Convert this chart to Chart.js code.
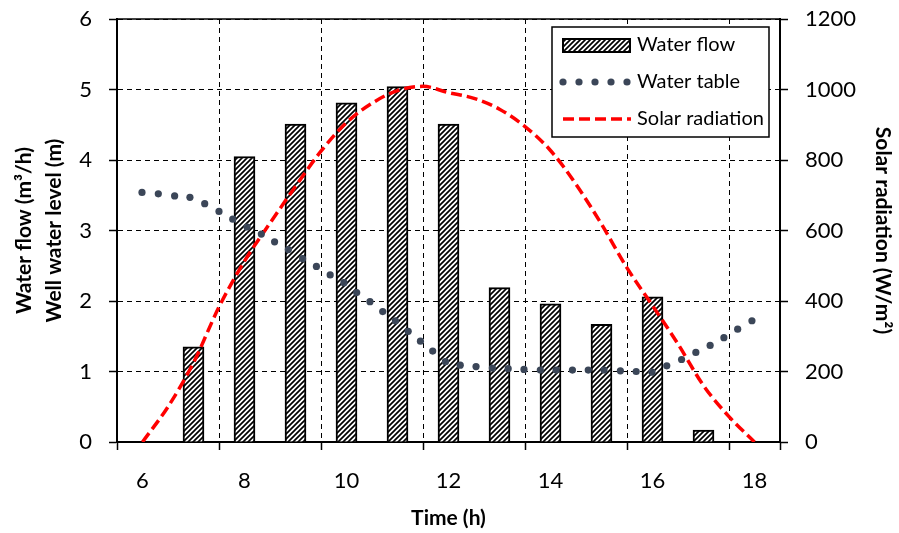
<!DOCTYPE html>
<html>
<head>
<meta charset="utf-8">
<script src="https://cdn.jsdelivr.net/npm/chart.js@4.4.1/dist/chart.umd.min.js"></script>
<style>
  body { margin: 0; background: #fff; }
  #wrap { width: 899px; height: 533px; }
</style>
</head>
<body>
<div id="wrap"><canvas id="canvas" width="899" height="533"></canvas></div>
<script>
// water flow (bars, one per hour)
var flowHours = [7, 8, 9, 10, 11, 12, 13, 14, 15, 16, 17];
var flowValues = [1.35, 4.05, 4.51, 4.81, 5.04, 4.51, 2.19, 1.96, 1.67, 2.06, 0.17];

// well water level (dots)
var tableHours = [5.99, 6.31, 6.63, 6.93, 7.22, 7.50, 7.77, 8.05, 8.33, 8.59, 8.86, 9.14, 9.41, 9.68,
  9.95, 10.20, 10.46, 10.71, 10.96, 11.21, 11.45, 11.69, 11.94, 12.23, 12.54, 12.86, 13.17, 13.48,
  13.80, 14.11, 14.43, 14.74, 15.05, 15.37, 15.68, 15.99, 16.28, 16.57, 16.85, 17.13, 17.40, 17.67, 17.95];
var tableValues = [3.54, 3.52, 3.49, 3.47, 3.38, 3.27, 3.16, 3.05, 2.95, 2.84, 2.73, 2.60, 2.49, 2.37,
  2.26, 2.12, 1.99, 1.85, 1.72, 1.57, 1.43, 1.29, 1.14, 1.09, 1.07, 1.05, 1.04, 1.03,
  1.02, 1.02, 1.02, 1.02, 1.02, 1.01, 1.00, 0.99, 1.08, 1.17, 1.27, 1.37, 1.48, 1.60, 1.72];

// solar radiation (W/m2)
var solarHours = [6, 6.5, 7, 7.5, 8, 8.5, 9, 9.5, 10, 10.5, 11, 11.5, 12, 12.5, 13, 13.5, 14, 14.5,
  15, 15.5, 16, 16.5, 17, 17.5, 18];
var solarValues = [0, 100, 225, 383, 513, 621, 725, 825, 906, 961, 997, 1009, 991, 975, 944, 895, 827, 731,
  618, 494, 387, 278, 160, 72, 0];

// axis ticks
var xGridAt = [5.5, 7.5, 9.5, 11.5, 13.5, 15.5, 17.5, 18.5];
var xTickLabels = ['6', '8', '10', '12', '14', '16', '18'];

Chart.defaults.font.family = 'Lato';
Chart.defaults.color = '#000';

const ctx = document.getElementById('canvas').getContext('2d');

function hatch() {
  var c = document.createElement('canvas');
  c.width = 5; c.height = 5;
  var g = c.getContext('2d');
  g.fillStyle = '#fff';
  g.fillRect(0, 0, 5, 5);
  g.strokeStyle = '#000';
  g.lineWidth = 1.7;
  g.beginPath();
  g.moveTo(0, 5); g.lineTo(5, 0);
  g.moveTo(-1, 1); g.lineTo(1, -1);
  g.moveTo(4, 6); g.lineTo(6, 4);
  g.stroke();
  return ctx.createPattern(c, 'repeat');
}
var hatchFill = hatch();
var dotColor = '#3b4658';
var solarDash = [11, 5];

function pts(xs, ys) {
  return xs.map(function (x, i) { return { x: x, y: ys[i] }; });
}

// top frame line + boxed legend inside the plot
var frame = {
  id: 'frame',
  afterDatasetsDraw: function (chart) {
    var a = chart.chartArea, g = chart.ctx, ds = chart.data.datasets;
    g.save();
    g.strokeStyle = '#000';
    g.lineWidth = 1.5;
    g.beginPath(); g.moveTo(a.left, a.top); g.lineTo(a.right, a.top); g.stroke();

    var lx = a.right - 228, ly = a.top + 8, lw = 217, lh = 110;
    g.fillStyle = '#fff';
    g.fillRect(lx, ly, lw, lh);
    g.lineWidth = 1.5;
    g.strokeRect(lx, ly, lw, lh);

    // water flow
    g.fillStyle = hatchFill;
    g.fillRect(lx + 11, ly + 12, 67, 13);
    g.lineWidth = 2;
    g.strokeRect(lx + 11, ly + 12, 67, 13);
    // water table
    g.fillStyle = dotColor;
    for (var k = 0; k < 5; k++) {
      g.beginPath();
      g.arc(lx + 11 + 16 * k, ly + 55, 3.6, 0, Math.PI * 2);
      g.fill();
    }
    // solar radiation
    g.strokeStyle = '#ff0000';
    g.lineWidth = 3.5;
    g.setLineDash(solarDash);
    g.beginPath(); g.moveTo(lx + 11, ly + 92); g.lineTo(lx + 79, ly + 92); g.stroke();
    g.setLineDash([]);

    g.fillStyle = '#000';
    g.font = '20px Lato';
    g.textBaseline = 'middle';
    g.fillText(ds[0].label, lx + 85, ly + 18);
    g.fillText(ds[1].label, lx + 85, ly + 55);
    g.fillText(ds[2].label, lx + 85, ly + 92);
    g.restore();
  }
};

var gridStyle = { color: '#000', lineWidth: 1, tickLength: 8, tickBorderDash: [], tickWidth: 1.5, offset: false };
var borderStyle = { color: '#000', width: 2, dash: [5, 4] };
var tickFont = { size: 22 };
var titleFont = { size: 21, weight: 'bold', lineHeight: 1.4 };

// fixed axis sizes, no extra label padding above the plot
function fitY(w) {
  return function (s) { s.width = w; s.paddingTop = 0; s.paddingBottom = 0; };
}

const myChart = new Chart(ctx, {
  data: {
    datasets: [{
      type: 'bar',
      label: 'Water flow',
      data: pts(flowHours, flowValues),
      backgroundColor: hatchFill,
      borderColor: '#000',
      borderWidth: 2,
      barThickness: 21,
      yAxisID: 'y',
      order: 3
    }, {
      type: 'line',
      label: 'Water table',
      data: pts(tableHours, tableValues),
      showLine: false,
      pointRadius: 3.6,
      pointBackgroundColor: dotColor,
      pointBorderWidth: 0,
      yAxisID: 'y',
      order: 1
    }, {
      type: 'line',
      label: 'Solar radiation',
      data: pts(solarHours, solarValues),
      borderColor: '#ff0000',
      borderWidth: 3.5,
      borderDash: solarDash,
      cubicInterpolationMode: 'monotone',
      pointRadius: 0,
      fill: false,
      yAxisID: 'y2',
      order: 2
    }]
  },
  options: {
    responsive: false,
    animation: false,
    events: [],
    layout: { padding: { top: 19, left: 0, right: 0, bottom: 0 } },
    plugins: { legend: { display: false }, tooltip: { enabled: false } },
    scales: {
      x: {
        type: 'linear',
        offset: false,
        min: 5.5,
        max: 18.5,
        afterBuildTicks: function (s) {
          s.ticks = xGridAt.map(function (v) { return { value: v }; });
        },
        afterFit: function (s) { s.height = 91; },
        grid: gridStyle,
        border: borderStyle,
        ticks: {
          labelOffset: 25.5,
          padding: 18,
          maxRotation: 0,
          autoSkip: false,
          font: tickFont,
          callback: function (v, i) { return xTickLabels[i] || ''; }
        },
        title: { display: true, text: 'Time (h)', font: titleFont, padding: { top: 0, bottom: 0 } }
      },
      y: {
        position: 'left',
        min: 0,
        max: 6,
        afterFit: fitY(117),
        grid: gridStyle,
        border: borderStyle,
        ticks: { stepSize: 1, padding: 17, font: tickFont },
        title: {
          display: true,
          text: ['Water flow (m³/h)', 'Well water level (m)'],
          font: titleFont,
          padding: { top: 10, bottom: 0 }
        }
      },
      y2: {
        position: 'right',
        min: 0,
        max: 1200,
        afterFit: fitY(119),
        grid: { drawOnChartArea: false, color: '#000', tickLength: 8, tickWidth: 1.5, tickBorderDash: [] },
        border: { color: '#000', width: 2 },
        ticks: {
          stepSize: 200,
          padding: 17,
          font: tickFont,
          callback: function (v) { return String(v); }
        },
        title: { display: true, text: 'Solar radiation (W/m²)', font: titleFont, padding: { top: 2, bottom: 0 } }
      }
    }
  },
  plugins: [frame]
});
</script>
</body>
</html>
